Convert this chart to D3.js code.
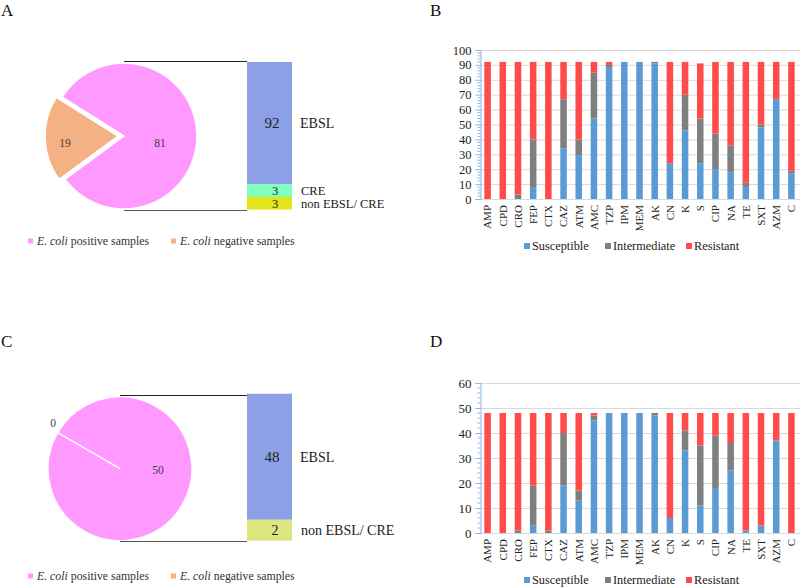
<!DOCTYPE html>
<html><head><meta charset="utf-8">
<script src="https://cdn.jsdelivr.net/npm/d3@7"></script>
<style>body{margin:0;background:#fff}svg text{font-family:'Liberation Serif','Times New Roman',serif}</style>
</head><body>
<svg id="c" width="800" height="587" font-family="Liberation Serif, serif"></svg>
<script>
// ---------- data ----------
const categories = ["AMP","CPD","CRO","FEP","CTX","CAZ","ATM","AMC","TZP","IPM","MEM","AK","CN","K","S","CIP","NA","TE","SXT","AZM","C"];
const seriesNames = ["Susceptible","Intermediate","Resistant"];
const susceptibleB  = [0,0,0,8,0,34,29,54,88,92,92,91,24,46,24,20,18,8,48,67,17];
const intermediateB = [0,0,3,32,0,33,11,31,2,0,0,1,0,24,30,24,18,3,2,0,2];
const resistantB    = [92,92,89,52,92,25,52,7,2,0,0,0,68,22,37,48,56,81,42,25,73];
const susceptibleD  = [0,0,0,3,0,19,13,45,48,48,48,47,6,33,11,18,25,1,3,37,0];
const intermediateD = [0,0,1,16,1,21,4,2,0,0,0,1,0,8,24,21,11,0,0,0,0];
const resistantD    = [48,48,47,29,47,8,31,1,0,0,0,0,42,7,13,9,12,47,45,11,48];
const yTicksB = [0,10,20,30,40,50,60,70,80,90,100];
const yTicksD = [0,10,20,30,40,50,60];
const pieNames = ["positive samples","negative samples"];
const pieA = [81,19];
const pieC = [50,0];
const subNamesA = ["EBSL","CRE","non EBSL/ CRE"];
const subValuesA = [92,3,3];
const subNamesC = ["EBSL","non EBSL/ CRE"];
const subValuesC = [48,2];

// ---------- styles ----------
const FONT = "Liberation Serif";
const svg = d3.select("#c");
const stackColors = ["#5b9bd5","#7f7f7f","#ff4b4b"];
const pieColors = ["#ff99ff","#f4b183"];

function txt(sel){ return sel.append("text").attr("font-family",FONT); }

function panelLetter(t,x,y){
  txt(svg).attr("x",x).attr("y",y).attr("font-size",17).attr("fill","#111").text(t);
}
panelLetter("A",1,16); panelLetter("B",430,16);
panelLetter("C",1,347); panelLetter("D",430,347);

// ---------- stacked bar charts ----------
function stacked(S,I,R,ticks,yTop,yBot,legendY,labelFont){
  const table = categories.map((c,i)=>({cat:c,Susceptible:S[i],Intermediate:I[i],Resistant:R[i]}));
  const series = d3.stack().keys(seriesNames)(table);
  const x = d3.scaleBand().domain(categories).range([480,799]).paddingInner(0.57).paddingOuter(0.285);
  const y = d3.scaleLinear().domain([0,d3.max(ticks)]).range([yBot,yTop]);
  const g = svg.append("g");
  g.selectAll("line.grid").data(ticks.slice(1)).join("line")
    .attr("x1",480).attr("x2",800).attr("y1",d=>y(d)+0.5).attr("y2",d=>y(d)+0.5)
    .attr("stroke","#d9d9d9").attr("stroke-width",1);
  g.append("line").attr("x1",480).attr("x2",800).attr("y1",y(0)+0.5).attr("y2",y(0)+0.5)
    .attr("stroke","#d9d9d9");
  g.selectAll("g.s").data(series).join("g").attr("fill",(d,i)=>stackColors[i])
    .selectAll("rect").data(d=>d).join("rect")
    .attr("x",d=>x(d.data.cat)).attr("width",x.bandwidth())
    .attr("y",d=>y(d[1])).attr("height",d=>y(d[0])-y(d[1]));
  const ax = d3.axisLeft(y).tickValues(ticks).tickSize(5).tickPadding(4);
  const ag = g.append("g").attr("transform","translate(480.5,0)").call(ax);
  ag.attr("font-family",FONT);
  ag.select(".domain").attr("stroke","#8fb4e3");
  ag.selectAll(".tick line").attr("stroke","#8fb4e3");
  ag.selectAll(".tick text").attr("font-family",FONT).attr("font-size",labelFont).attr("fill","#222");
  const minor = d3.range(0,d3.max(ticks)+0.01,2).filter(v=>v%10!==0);
  ag.selectAll("line.minor").data(minor).join("line")
    .attr("x1",-3).attr("x2",0).attr("y1",d=>y(d)).attr("y2",d=>y(d)).attr("stroke","#8fb4e3");
  g.selectAll("text.xl").data(categories).join("text").attr("font-family",FONT)
    .attr("transform",d=>`translate(${x(d)+x.bandwidth()/2},${yBot+6}) rotate(-90)`)
    .attr("text-anchor","end").attr("dy","0.35em").attr("font-size",11).attr("fill","#222").text(d=>d);
  const lx = [524,605,686];
  seriesNames.forEach((n,i)=>{
    g.append("rect").attr("x",lx[i]).attr("y",legendY-3).attr("width",6).attr("height",6).attr("fill",stackColors[i]);
    txt(g).attr("x",lx[i]+8).attr("y",legendY).attr("dy","0.35em").attr("font-size",12.3).attr("fill","#222").text(n);
  });
}
stacked(susceptibleB,intermediateB,resistantB,yTicksB,50,199,246,12.5);
stacked(susceptibleD,intermediateD,resistantD,yTicksD,383,533,580,13);

// ---------- pie + bar of pie ----------
function pieOfBar(vals,cx,cy,r,startDeg,explodeIdx,labelPos,subVals,subNames,subColors,barTop,barBot,expo,connTop,connBot,legendY,sideFont){
  const g = svg.append("g");
  const pie = d3.pie().sort(null).startAngle(startDeg*Math.PI/180).endAngle(startDeg*Math.PI/180+2*Math.PI);
  const arcs = pie(vals);
  const arc = d3.arc().innerRadius(0).outerRadius(r);
  arcs.forEach((a,i)=>{
    let dx=0,dy=0;
    if(i===explodeIdx){const m=(a.startAngle+a.endAngle)/2; dx=Math.sin(m)*6; dy=-Math.cos(m)*6;}
    g.append("path").attr("d",arc(a)).attr("transform",`translate(${cx+dx},${cy+dy})`)
      .attr("fill",pieColors[i]).attr("stroke","#fff").attr("stroke-width",1.5);
  });
  arcs.forEach((a,i)=>{
    txt(g).attr("x",labelPos[i][0]).attr("y",labelPos[i][1]).attr("dy","0.35em")
      .attr("text-anchor","middle").attr("font-size",11.5).attr("fill","#404040").text(a.data);
  });
  g.append("line").attr("x1",cx).attr("x2",247).attr("y1",connTop).attr("y2",connTop).attr("stroke","#222");
  g.append("line").attr("x1",cx).attr("x2",247).attr("y1",connBot).attr("y2",connBot).attr("stroke","#555");
  const pw = d3.scalePow().exponent(expo).domain([0,1]).range([0,1]);
  const w = subVals.map(v=>pw(v));
  const hs = d3.scaleLinear().domain([0,d3.sum(w)]).range([barTop,barBot]);
  let acc=0;
  subVals.forEach((v,i)=>{
    const y0=hs(acc), y1=hs(acc+w[i]); acc+=w[i];
    g.append("rect").attr("x",247).attr("width",45).attr("y",y0).attr("height",y1-y0).attr("fill",subColors[i]);
    const mid=(y0+y1)/2;
    const big = i===0;
    txt(g).attr("x",big?272:275).attr("y",mid).attr("dy","0.35em").attr("text-anchor","middle")
      .attr("font-size",big?15:sideFont).attr("fill","#222").text(v);
    txt(g).attr("x",i===0?300:301).attr("y",mid).attr("dy","0.35em")
      .attr("font-size",big?14:sideFont).attr("fill","#222").text(subNames[i]);
  });
  const lx=[28,171];
  pieNames.forEach((n,i)=>{
    g.append("rect").attr("x",lx[i]).attr("y",legendY-2.5).attr("width",5).attr("height",5).attr("fill",pieColors[i]);
    const t=txt(g).attr("x",lx[i]+9).attr("y",legendY).attr("dy","0.35em").attr("font-size",11.8).attr("fill","#333");
    t.append("tspan").attr("font-style","italic").text("E. coli");
    t.append("tspan").text(" "+n);
  });
}
pieOfBar(pieA,124,136,73,302.2,1,[[160,143],[65,143]],subValuesA,subNamesA,["#8ba0e6","#80ffbd","#e4e41a"],62,209.5,0.666,61.5,210.5,241,12.5);
pieOfBar(pieC,120,468.7,72,300,-1,[[158,470],[53,423]],subValuesC,subNamesC,["#8ba0e6","#dde57e"],393.7,540.7,0.564,395.5,541.5,576,14);
</script>
</body></html>
